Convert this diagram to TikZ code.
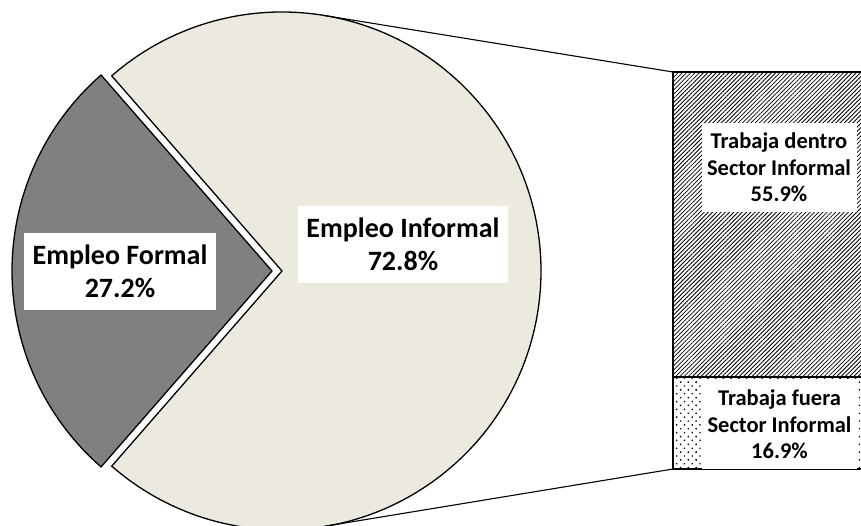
\documentclass[tikz,border=0pt]{standalone}
\usepackage{fontspec}
\setmainfont{Carlito}
\usetikzlibrary{patterns.meta}
\definecolor{informal}{HTML}{ECE9DF}
\definecolor{formal}{HTML}{808080}
\begin{document}
\begin{tikzpicture}[x=1pt,y=1pt,
  slice/.style={draw=black,line width=1.3pt,line join=miter},
  conn/.style={draw=black,line width=1.1pt},
  bigLabel/.style={fill=white,inner sep=0pt,align=center,font=\fontsize{28}{33}\selectfont\bfseries},
  barLabel/.style={fill=white,inner sep=0pt,align=center,font=\fontsize{22.5}{26.7}\selectfont\bfseries,minimum width=155pt,minimum height=89pt}]
\useasboundingbox (0,0) rectangle (861,526);
\clip (0,0) rectangle (861,526);
% centres
\coordinate (ci) at (282,255);
\coordinate (cf) at (272,255);
% informal slice
\fill[informal] (ci) -- ++(131.1:259) arc[start angle=131.1,end angle=-131.1,radius=259] -- cycle;
\draw[slice] (ci) -- ++(131.1:259) arc[start angle=131.1,end angle=-131.1,radius=259] -- cycle;
% formal slice
\fill[formal] (cf) -- ++(131.1:260) arc[start angle=131.1,end angle=228.9,radius=260] -- cycle;
\draw[slice] (cf) -- ++(131.1:260) arc[start angle=131.1,end angle=228.9,radius=260] -- cycle;
% bar
\coordinate (btl) at (673,454);
\coordinate (bml) at (673,149);
\coordinate (bbl) at (673,57);
\coordinate (bmr) at (875,149);
\coordinate (btr) at (875,454);
\coordinate (bbr) at (875,57);
\fill[white] (bbl) rectangle (btr);
\fill[pattern={Lines[angle=45,distance=3pt,line width=0.8pt]},pattern color=black] (bml) rectangle (btr);
\fill[pattern={Dots[angle=45,distance=5.5pt,radius=1pt]},pattern color=black] (bbl) rectangle (bmr);
\draw[line width=1.3pt] (btr) -- (btl) -- (bbl) -- (bbr);
\draw[line width=1.3pt] (bml) -- (bmr);
% connectors
\coordinate (tt) at (323.5,510.6);
\coordinate (tb) at (324.1,-0.4);
\draw[conn] (tt) -- (btl);
\draw[conn] (tb) -- (bbl);
% labels
\node[bigLabel,minimum width=192pt,minimum height=77pt] (lf) at (120,254.5) {Empleo Formal\\27.2\%};
\node[bigLabel,minimum width=210pt,minimum height=77pt] (li) at (403,281.5) {Empleo Informal\\72.8\%};
\node[barLabel] (ld) at (779,358.5) {Trabaja dentro\\Sector Informal\\55.9\%};
\node[barLabel] (lo) at (779.5,101.5) {Trabaja fuera\\Sector Informal\\16.9\%};
\end{tikzpicture}
\end{document}
